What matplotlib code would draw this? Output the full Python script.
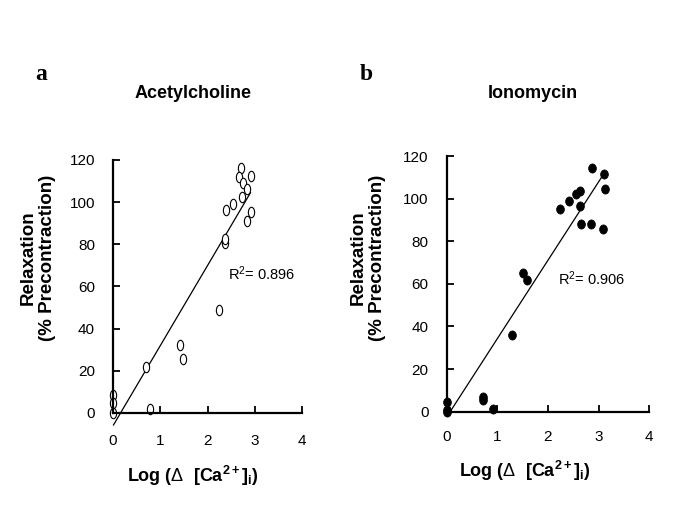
"""Relaxation vs log change in [Ca2+]i: acetylcholine (a) and ionomycin (b)."""

import matplotlib
matplotlib.use("Agg")
import matplotlib.pyplot as plt
from matplotlib.path import Path
from matplotlib.transforms import Affine2D
import numpy as np

plt.rcParams["font.family"] = ["Liberation Sans", "DejaVu Sans"]
plt.rcParams["mathtext.fontset"] = "custom"
plt.rcParams["mathtext.rm"] = "Liberation Sans"
plt.rcParams["mathtext.bf"] = "Liberation Sans:bold"
plt.rcParams["mathtext.it"] = "Liberation Sans:italic"

# ---- data ----
ach_x = [0.0, 0.0, 0.0, 0.70, 0.78, 1.42, 1.49, 2.25, 2.37, 2.37, 2.39, 2.53,
         2.70, 2.67, 2.93, 2.75, 2.84, 2.74, 2.83, 2.93]
ach_y = [8.4, 4.6, 0.0, 21.9, 1.7, 32.0, 25.7, 48.8, 80.7, 82.7, 96.3, 99.0,
         116.0, 112.0, 112.3, 109.0, 106.3, 102.6, 90.9, 95.2]
ach_fit = (38.0, -6.1)          # slope, intercept
ach_fit_range = (0.01, 2.91)
ach_r2 = "0.896"

iono_x = [0.0, 0.0, 0.0, 0.72, 0.72, 0.91, 1.29, 1.50, 1.59, 2.23, 2.42, 2.55,
          2.64, 2.64, 2.66, 2.85, 2.86, 3.10, 3.13, 3.09]
iono_y = [4.4, 0.8, 0.0, 7.0, 5.5, 1.1, 36.0, 65.1, 61.9, 95.1, 99.0, 102.0,
          103.7, 96.5, 88.1, 88.1, 114.3, 111.6, 104.7, 85.8]
iono_fit = (36.8, -2.5)
iono_fit_range = (0.07, 3.09)
iono_r2 = "0.906"

x_ticks = [0, 1, 2, 3, 4]
y_ticks = [0, 20, 40, 60, 80, 100, 120]

W, H = 685, 513


def fx(px):
    return px / W


def fy(py):
    return 1 - py / H


def ellipse_marker(sx):
    return Path.unit_circle().transformed(Affine2D().scale(sx, 1.0))


def setup_axes(ax, xpad, ypad):
    ax.set_xlim(0, 4)
    ax.set_ylim(-10, 120)
    for side in ("top", "right"):
        ax.spines[side].set_visible(False)
    ax.spines["bottom"].set_position(("data", 0))
    ax.spines["left"].set_bounds(0, 120)
    for side in ("bottom", "left"):
        ax.spines[side].set_linewidth(1.6)
    ax.set_xticks(x_ticks)
    ax.set_yticks(y_ticks)
    ax.tick_params(axis="both", direction="in", length=5, width=1.3, labelsize=11)
    ax.tick_params(axis="x", pad=xpad)
    ax.tick_params(axis="y", pad=ypad)
    ax.patch.set_visible(False)


def fit_line(ax, fit, rng):
    xs = np.array(rng)
    ax.plot(xs, fit[0] * xs + fit[1], color="black", lw=0.9, clip_on=False)


fig = plt.figure(figsize=(W / 100, H / 100), dpi=100)

ax_a = fig.add_axes([fx(113), fy(434), fx(189), 274 / H])
ax_b = fig.add_axes([fx(446.7), fy(433), fx(202.6), 277 / H])

# panel a: acetylcholine, open ellipses
setup_axes(ax_a, xpad=15, ypad=13)
fit_line(ax_a, ach_fit, ach_fit_range)
ax_a.plot(ach_x, ach_y, ls="none", marker=ellipse_marker(0.6), ms=7.5,
          mfc="white", mec="black", mew=0.8, clip_on=False)
ax_a.text(2.43, 66, r"R$^{2}$= " + ach_r2, fontsize=10.5, va="center", ha="left")

# panel b: ionomycin, filled dots
setup_axes(ax_b, xpad=13.5, ypad=13)
fit_line(ax_b, iono_fit, iono_fit_range)
ax_b.plot(iono_x, iono_y, ls="none", marker=ellipse_marker(0.85), ms=6.6,
          mfc="black", mec="black", mew=0.5, clip_on=False)
ax_b.text(2.20, 62.3, r"R$^{2}$= " + iono_r2, fontsize=10.5, va="center", ha="left")

# figure texts
for lbl, x in (("a", 41.5), ("b", 366)):
    fig.text(fx(x), fy(74.5), lbl, family=["Liberation Serif"], fontweight="bold",
             fontsize=17, ha="center", va="center")

fig.text(fx(193), fy(93), "Acetylcholine", fontsize=13, fontweight="bold",
         ha="center", va="center")
fig.text(fx(533), fy(93), "Ionomycin", fontsize=13, fontweight="bold",
         ha="center", va="center")

xlabel = r"Log ($\Delta$  [Ca$^{\mathbf{2+}}$]$_{\mathbf{i}}$)"
fig.text(fx(193), fy(476), xlabel, fontsize=13, fontweight="bold",
         ha="center", va="center")
fig.text(fx(525), fy(471), xlabel, fontsize=13, fontweight="bold",
         ha="center", va="center")

ylabel = "Relaxation\n(% Precontraction)"
fig.text(fx(38), fy(258), ylabel, fontsize=13.5, fontweight="bold", rotation=90,
         ha="center", va="center", linespacing=1.2, multialignment="center")
fig.text(fx(368), fy(258), ylabel, fontsize=13.5, fontweight="bold", rotation=90,
         ha="center", va="center", linespacing=1.2, multialignment="center")

fig.savefig("out.png", dpi=100)
